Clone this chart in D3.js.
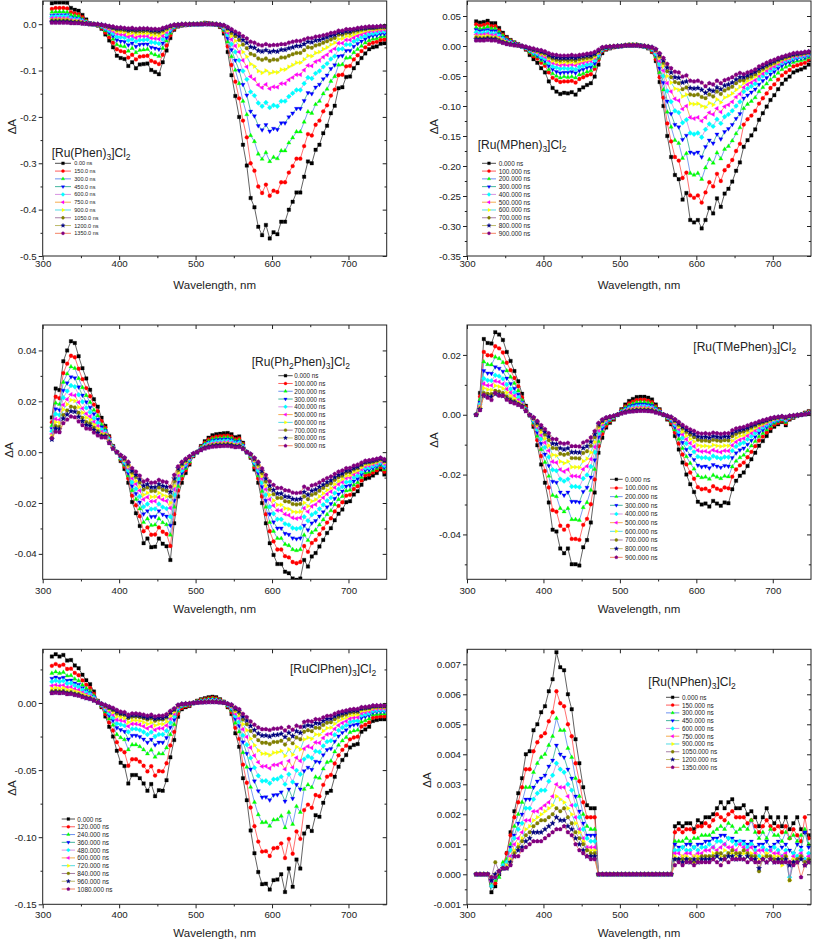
<!DOCTYPE html>
<html><head><meta charset="utf-8">
<script src="https://cdn.jsdelivr.net/npm/d3@7"></script>
<style>body{margin:0;background:#fff}svg{display:block}text{font-family:"Liberation Sans",Arial,Helvetica,sans-serif;fill:#222}</style>
</head><body>
<svg id="c" width="813" height="941"></svg>
<script>
// ---------- DATA ----------
const wavelengths = [312,317,322,327,332,337,342,347,352,357,362,367,372,377,382,387,392,397,402,407,412,417,422,427,432,437,442,447,452,457,462,467,472,477,482,487,492,497,502,507,512,517,522,527,532,537,542,547,552,557,562,567,572,577,582,587,592,597,602,607,612,617,622,627,632,637,642,647,652,657,662,667,672,677,682,687,692,697,702,707,712,717,722,727,732,737,742,747];
const xTicks = [300,400,500,600,700];
const xMinorTicks = [350,450,550,650];

const phenLabels = ["0.00 ns","150.0 ns","300.0 ns","450.0 ns","600.0 ns","750.0 ns","900.0 ns","1050.0 ns","1200.0 ns","1350.0 ns"];
const phenYTicks = [-0.5,-0.4,-0.3,-0.2,-0.1,0.0];
const phenYMinor = [-0.45,-0.35,-0.25,-0.15,-0.05];
const phenSeries = [
[.045,.047,.047,.047,.046,.035,.031,.029,.020,.010,.002,0,-.003,-.010,-.022,-.035,-.050,-.068,-.073,-.075,-.090,-.082,-.095,-.087,-.086,-.085,-.099,-.103,-.108,-.082,-.057,-.030,-.012,-.005,-.003,-.002,-.001,0,0,.001,.003,.002,.001,-.001,-.006,-.020,-.060,-.110,-.155,-.200,-.260,-.305,-.375,-.395,-.437,-.455,-.433,-.462,-.449,-.453,-.426,-.426,-.400,-.383,-.363,-.363,-.329,-.296,-.300,-.271,-.260,-.235,-.219,-.192,-.176,-.138,-.136,-.114,-.113,-.095,-.084,-.073,-.063,-.054,-.050,-.048,-.042,-.041],
[.033,.035,.035,.035,.034,.026,.023,.021,.015,.007,.001,0,-.002,-.008,-.018,-.028,-.040,-.054,-.058,-.060,-.072,-.066,-.076,-.070,-.069,-.068,-.079,-.082,-.086,-.066,-.046,-.024,-.010,-.004,-.002,-.002,-.001,0,0,.001,.002,.002,.001,-.001,-.005,-.016,-.048,-.088,-.124,-.160,-.208,-.244,-.300,-.316,-.350,-.364,-.346,-.370,-.359,-.362,-.341,-.341,-.320,-.306,-.290,-.290,-.263,-.237,-.240,-.217,-.208,-.188,-.175,-.154,-.141,-.110,-.109,-.091,-.090,-.076,-.067,-.058,-.050,-.043,-.040,-.038,-.034,-.033],
[.026,.027,.027,.027,.026,.020,.018,.017,.011,.006,.001,0,-.002,-.006,-.014,-.022,-.032,-.044,-.047,-.048,-.058,-.052,-.061,-.056,-.055,-.054,-.063,-.066,-.069,-.052,-.036,-.019,-.008,-.003,-.002,-.001,-.001,0,0,.001,.002,.001,.001,-.001,-.004,-.013,-.038,-.070,-.099,-.128,-.166,-.195,-.240,-.253,-.280,-.291,-.277,-.296,-.287,-.290,-.273,-.273,-.256,-.245,-.232,-.232,-.211,-.189,-.192,-.173,-.166,-.150,-.140,-.123,-.113,-.088,-.087,-.073,-.072,-.061,-.054,-.047,-.040,-.035,-.032,-.031,-.027,-.026],
[.019,.020,.020,.020,.020,.015,.013,.012,.009,.004,.001,0,-.002,-.005,-.011,-.018,-.025,-.034,-.037,-.038,-.045,-.041,-.048,-.044,-.043,-.043,-.050,-.052,-.054,-.041,-.029,-.015,-.006,-.003,-.002,-.001,-.001,0,0,0,.002,.001,0,-.001,-.003,-.010,-.030,-.055,-.078,-.100,-.130,-.153,-.188,-.198,-.219,-.228,-.217,-.231,-.225,-.227,-.213,-.213,-.200,-.192,-.182,-.182,-.165,-.148,-.150,-.136,-.130,-.118,-.110,-.096,-.088,-.069,-.068,-.057,-.057,-.048,-.042,-.037,-.032,-.027,-.025,-.024,-.021,-.021],
[.016,.017,.017,.017,.017,.013,.011,.010,.007,.004,.001,0,-.001,-.004,-.009,-.014,-.020,-.027,-.028,-.029,-.035,-.032,-.037,-.034,-.034,-.033,-.039,-.040,-.042,-.032,-.022,-.012,-.005,-.002,-.001,-.001,0,0,0,0,.001,.001,0,0,-.002,-.008,-.023,-.043,-.060,-.078,-.101,-.119,-.146,-.154,-.170,-.177,-.169,-.180,-.175,-.177,-.166,-.166,-.156,-.149,-.142,-.142,-.128,-.115,-.117,-.106,-.101,-.092,-.085,-.075,-.069,-.054,-.053,-.044,-.044,-.037,-.033,-.028,-.025,-.021,-.020,-.019,-.016,-.016],
[.013,.013,.013,.013,.013,.010,.009,.008,.006,.003,.001,0,-.001,-.003,-.007,-.011,-.015,-.020,-.022,-.023,-.027,-.025,-.029,-.026,-.026,-.026,-.030,-.031,-.032,-.025,-.017,-.009,-.004,-.002,-.001,-.001,0,0,0,0,.001,.001,0,0,-.002,-.006,-.018,-.033,-.047,-.060,-.078,-.092,-.113,-.119,-.131,-.137,-.130,-.139,-.135,-.136,-.128,-.128,-.120,-.115,-.109,-.109,-.099,-.089,-.090,-.081,-.078,-.071,-.066,-.058,-.053,-.041,-.041,-.034,-.034,-.029,-.025,-.022,-.019,-.016,-.015,-.014,-.013,-.012],
[.009,.010,.010,.010,.010,.007,.007,.006,.004,.002,0,0,-.001,-.002,-.005,-.008,-.012,-.016,-.017,-.017,-.021,-.019,-.022,-.020,-.020,-.020,-.023,-.024,-.025,-.019,-.013,-.007,-.003,-.001,-.001,0,0,0,0,0,.001,0,0,0,-.001,-.005,-.014,-.025,-.036,-.046,-.060,-.070,-.086,-.091,-.101,-.105,-.100,-.106,-.103,-.104,-.098,-.098,-.092,-.088,-.083,-.083,-.076,-.068,-.069,-.062,-.060,-.054,-.050,-.044,-.040,-.032,-.031,-.026,-.026,-.022,-.019,-.017,-.014,-.012,-.012,-.011,-.010,-.009],
[.008,.008,.008,.008,.008,.006,.005,.005,.003,.002,0,0,-.001,-.002,-.004,-.006,-.009,-.012,-.012,-.013,-.015,-.014,-.016,-.015,-.015,-.014,-.017,-.018,-.018,-.014,-.010,-.005,-.002,-.001,-.001,0,0,0,0,0,.001,0,0,0,-.001,-.003,-.010,-.019,-.026,-.034,-.044,-.052,-.064,-.067,-.074,-.077,-.074,-.079,-.076,-.077,-.072,-.072,-.068,-.065,-.062,-.062,-.056,-.050,-.051,-.046,-.044,-.040,-.037,-.033,-.030,-.023,-.023,-.019,-.019,-.016,-.014,-.012,-.011,-.009,-.009,-.008,-.007,-.007],
[.005,.005,.005,.005,.005,.004,.003,.003,.002,.001,0,0,0,-.001,-.003,-.005,-.007,-.009,-.009,-.010,-.012,-.011,-.012,-.011,-.011,-.011,-.013,-.013,-.014,-.011,-.007,-.004,-.002,-.001,0,0,0,0,0,0,0,0,0,0,-.001,-.003,-.008,-.014,-.020,-.026,-.034,-.040,-.049,-.051,-.057,-.059,-.056,-.060,-.058,-.059,-.055,-.055,-.052,-.050,-.047,-.047,-.043,-.038,-.039,-.035,-.034,-.031,-.028,-.025,-.023,-.018,-.018,-.015,-.015,-.012,-.011,-.009,-.008,-.007,-.007,-.006,-.005,-.005],
[.003,.003,.003,.003,.003,.002,.002,.002,.001,.001,0,0,0,-.001,-.002,-.004,-.005,-.007,-.007,-.008,-.009,-.008,-.010,-.009,-.009,-.009,-.010,-.010,-.011,-.008,-.006,-.003,-.001,-.001,0,0,0,0,0,0,0,0,0,0,-.001,-.002,-.006,-.011,-.016,-.020,-.026,-.031,-.038,-.040,-.044,-.046,-.043,-.046,-.045,-.045,-.043,-.043,-.040,-.038,-.036,-.036,-.033,-.030,-.030,-.027,-.026,-.024,-.022,-.019,-.018,-.014,-.014,-.011,-.011,-.010,-.008,-.007,-.006,-.005,-.005,-.005,-.004,-.004]
];

const mphenLabels = ["0.000 ns","100.000 ns","200.000 ns","300.000 ns","400.000 ns","500.000 ns","600.000 ns","700.000 ns","800.000 ns","900.000 ns"];
const mphenYTicks = [-0.35,-0.30,-0.25,-0.20,-0.15,-0.10,-0.05,0.00,0.05];
const mphenYMinor = [-0.325,-0.275,-0.225,-0.175,-0.125,-0.075,-0.025,0.025];
const mphenSeries = [
[.041,.039,.040,.042,.038,.038,.030,.022,.015,.010,.006,.003,-.001,-.006,-.015,-.022,-.028,-.037,-.044,-.059,-.070,-.076,-.080,-.078,-.079,-.077,-.081,-.073,-.069,-.065,-.062,-.051,-.031,-.012,-.006,-.004,-.002,-.001,0,.001,.002,.002,.002,.001,-.001,-.004,-.010,-.025,-.060,-.100,-.150,-.185,-.215,-.222,-.256,-.245,-.290,-.294,-.290,-.304,-.290,-.270,-.279,-.254,-.268,-.246,-.238,-.226,-.208,-.194,-.168,-.157,-.149,-.139,-.123,-.112,-.101,-.090,-.082,-.072,-.063,-.056,-.051,-.044,-.041,-.039,-.036,-.031],
[.036,.034,.035,.037,.033,.033,.026,.019,.013,.009,.005,.003,-.001,-.005,-.011,-.017,-.021,-.028,-.033,-.044,-.053,-.057,-.060,-.059,-.059,-.058,-.061,-.055,-.052,-.049,-.047,-.038,-.023,-.009,-.005,-.003,-.002,-.001,0,.001,.002,.002,.002,.001,-.001,-.003,-.009,-.022,-.052,-.086,-.129,-.159,-.185,-.191,-.220,-.211,-.249,-.253,-.249,-.261,-.244,-.227,-.234,-.213,-.225,-.207,-.200,-.190,-.175,-.163,-.131,-.122,-.116,-.108,-.096,-.087,-.079,-.070,-.064,-.056,-.049,-.044,-.040,-.034,-.032,-.030,-.028,-.024],
[.031,.029,.030,.032,.029,.029,.023,.017,.011,.008,.005,.002,-.001,-.004,-.010,-.015,-.018,-.024,-.029,-.039,-.046,-.050,-.053,-.051,-.052,-.051,-.053,-.048,-.046,-.043,-.041,-.034,-.020,-.008,-.004,-.003,-.001,-.001,0,.001,.002,.002,.002,.001,-.001,-.003,-.007,-.018,-.044,-.073,-.110,-.135,-.157,-.162,-.187,-.179,-.212,-.215,-.212,-.222,-.203,-.189,-.195,-.178,-.188,-.172,-.167,-.158,-.146,-.136,-.104,-.097,-.092,-.086,-.076,-.069,-.063,-.056,-.051,-.045,-.039,-.035,-.032,-.027,-.025,-.024,-.022,-.019],
[.027,.025,.026,.027,.025,.025,.020,.014,.010,.007,.004,.002,-.001,-.003,-.008,-.012,-.016,-.021,-.025,-.033,-.039,-.043,-.045,-.044,-.044,-.043,-.045,-.041,-.039,-.036,-.035,-.029,-.017,-.007,-.003,-.002,-.001,-.001,0,.001,.001,.001,.001,.001,-.001,-.002,-.006,-.015,-.037,-.061,-.092,-.113,-.131,-.135,-.156,-.149,-.177,-.179,-.177,-.185,-.168,-.157,-.162,-.147,-.155,-.143,-.138,-.131,-.121,-.113,-.087,-.082,-.077,-.072,-.064,-.058,-.053,-.047,-.043,-.037,-.033,-.029,-.027,-.023,-.021,-.020,-.019,-.016],
[.023,.021,.022,.023,.021,.021,.017,.012,.008,.006,.003,.002,-.001,-.003,-.007,-.011,-.013,-.018,-.021,-.028,-.034,-.036,-.038,-.037,-.038,-.037,-.039,-.035,-.033,-.031,-.030,-.024,-.015,-.006,-.003,-.002,-.001,0,0,.001,.001,.001,.001,.001,-.001,-.002,-.005,-.013,-.030,-.050,-.075,-.093,-.108,-.111,-.128,-.123,-.145,-.147,-.145,-.152,-.139,-.130,-.134,-.122,-.129,-.118,-.114,-.108,-.100,-.093,-.076,-.071,-.067,-.063,-.055,-.050,-.045,-.041,-.037,-.032,-.028,-.025,-.023,-.020,-.018,-.018,-.016,-.014],
[.019,.018,.019,.020,.018,.018,.014,.010,.007,.005,.003,.001,-.001,-.002,-.006,-.009,-.011,-.015,-.018,-.024,-.028,-.030,-.032,-.031,-.032,-.031,-.032,-.029,-.028,-.026,-.025,-.020,-.012,-.005,-.002,-.002,-.001,0,0,.001,.001,.001,.001,0,0,-.002,-.004,-.010,-.025,-.041,-.062,-.076,-.088,-.091,-.105,-.100,-.119,-.121,-.119,-.125,-.119,-.111,-.114,-.104,-.110,-.101,-.098,-.093,-.085,-.080,-.069,-.064,-.061,-.057,-.050,-.046,-.041,-.037,-.034,-.030,-.026,-.023,-.021,-.018,-.017,-.016,-.015,-.013],
[.016,.016,.016,.017,.015,.015,.012,.009,.006,.004,.002,.001,0,-.002,-.005,-.008,-.010,-.013,-.015,-.021,-.025,-.027,-.028,-.027,-.028,-.027,-.028,-.026,-.024,-.023,-.022,-.018,-.011,-.004,-.002,-.001,-.001,0,0,.001,.001,.001,.001,0,0,-.001,-.003,-.008,-.020,-.033,-.050,-.061,-.071,-.073,-.084,-.081,-.096,-.097,-.096,-.100,-.102,-.095,-.098,-.089,-.094,-.086,-.083,-.079,-.073,-.068,-.062,-.058,-.055,-.051,-.046,-.041,-.037,-.033,-.030,-.027,-.023,-.021,-.019,-.016,-.015,-.014,-.013,-.011],
[.014,.013,.013,.014,.013,.013,.010,.007,.005,.003,.002,.001,0,-.002,-.005,-.007,-.008,-.011,-.013,-.018,-.021,-.023,-.024,-.023,-.024,-.023,-.024,-.022,-.021,-.020,-.019,-.015,-.009,-.004,-.002,-.001,-.001,0,0,.001,.001,.001,.001,0,0,-.001,-.003,-.007,-.017,-.028,-.042,-.052,-.060,-.062,-.072,-.069,-.081,-.082,-.081,-.085,-.087,-.081,-.084,-.076,-.080,-.074,-.071,-.068,-.062,-.058,-.057,-.053,-.051,-.047,-.042,-.038,-.034,-.031,-.028,-.024,-.021,-.019,-.017,-.015,-.014,-.013,-.012,-.011],
[.011,.011,.011,.012,.011,.011,.008,.006,.004,.003,.002,.001,0,-.002,-.004,-.006,-.007,-.009,-.011,-.015,-.018,-.019,-.020,-.020,-.020,-.019,-.020,-.018,-.017,-.016,-.016,-.013,-.008,-.003,-.002,-.001,-.001,0,0,.001,.001,.001,.001,0,0,-.001,-.002,-.006,-.014,-.024,-.036,-.044,-.052,-.053,-.061,-.059,-.070,-.071,-.070,-.073,-.078,-.073,-.075,-.069,-.072,-.066,-.064,-.061,-.056,-.052,-.052,-.049,-.046,-.043,-.038,-.035,-.031,-.028,-.025,-.022,-.020,-.017,-.016,-.014,-.013,-.012,-.011,-.010],
[.009,.009,.009,.010,.009,.009,.007,.005,.003,.002,.001,.001,0,-.001,-.003,-.004,-.006,-.007,-.009,-.012,-.014,-.015,-.016,-.016,-.016,-.015,-.016,-.015,-.014,-.013,-.012,-.010,-.006,-.002,-.001,-.001,0,0,0,.001,.001,.001,.001,0,0,-.001,-.002,-.005,-.012,-.020,-.030,-.037,-.043,-.044,-.051,-.049,-.058,-.059,-.058,-.061,-.067,-.062,-.064,-.058,-.062,-.057,-.055,-.052,-.048,-.045,-.047,-.044,-.042,-.039,-.034,-.031,-.028,-.025,-.023,-.020,-.018,-.016,-.014,-.012,-.011,-.011,-.010,-.009]
];

const ph2Labels = ["0.000 ns","100.000 ns","200.000 ns","300.000 ns","400.000 ns","500.000 ns","600.000 ns","700.000 ns","800.000 ns","900.000 ns"];
const ph2YTicks = [-0.04,-0.02,0.00,0.02,0.04];
const ph2YMinor = [-0.03,-0.01,0.01,0.03];
const ph2Series = [
[.0136,.025,.0244,.0357,.040,.0436,.0429,.0377,.033,.029,.0245,.0208,.0179,.0135,.0103,.0063,.0024,0,-.0035,-.0066,-.012,-.0196,-.024,-.029,-.0358,-.034,-.0374,-.0372,-.034,-.036,-.037,-.0424,-.028,-.0174,-.012,-.0082,-.0049,-.0016,0,.0024,.0043,.0057,.0066,.007,.0072,.0074,.0075,.007,.0059,.0062,.0037,0,-.0022,-.0068,-.012,-.020,-.028,-.0358,-.0404,-.044,-.044,-.047,-.0476,-.0497,-.0502,-.0497,-.0424,-.045,-.041,-.0397,-.0371,-.0345,-.0318,-.0299,-.0268,-.0242,-.0226,-.0197,-.0193,-.0167,-.0154,-.0128,-.0105,-.0101,-.0092,-.0082,-.0068,-.0088],
[.0118,.0218,.0212,.0311,.0348,.0379,.0373,.0328,.0287,.0252,.022,.0187,.0161,.0122,.0096,.0059,.0022,0,-.003,-.0057,-.0104,-.0171,-.0209,-.0252,-.0311,-.0296,-.0325,-.0324,-.0296,-.0313,-.0322,-.0369,-.0244,-.0151,-.0104,-.0071,-.0043,-.0014,0,.0021,.0037,.005,.0057,.0061,.0063,.0064,.0065,.0061,.0051,.0054,.0032,0,-.0019,-.0059,-.0104,-.0174,-.0244,-.0311,-.0351,-.0383,-.0383,-.0409,-.0414,-.0432,-.0437,-.0432,-.0369,-.0392,-.0357,-.0345,-.0323,-.030,-.0277,-.026,-.0233,-.0211,-.0197,-.0171,-.0168,-.0145,-.0134,-.0111,-.0091,-.0088,-.008,-.0071,-.0059,-.0077],
[.0105,.0193,.0188,.0275,.0308,.0336,.033,.029,.0254,.0223,.0196,.0166,.0143,.0108,.009,.0055,.0021,0,-.0027,-.0051,-.0092,-.0151,-.0185,-.0223,-.0276,-.0262,-.0288,-.0286,-.0262,-.0277,-.0285,-.0326,-.0216,-.0134,-.0092,-.0063,-.0038,-.0012,0,.0018,.0033,.0044,.0051,.0054,.0055,.0057,.0058,.0054,.0045,.0048,.0028,0,-.0017,-.0052,-.0092,-.0154,-.0216,-.0276,-.0311,-.0339,-.0339,-.0362,-.0367,-.0383,-.0387,-.0383,-.0326,-.0347,-.0316,-.0306,-.0286,-.0266,-.0245,-.023,-.0206,-.0186,-.0174,-.0152,-.0149,-.0129,-.0119,-.0099,-.0081,-.0078,-.0071,-.0063,-.0052,-.0068],
[.0092,.017,.0166,.0243,.0272,.0296,.0292,.0256,.0224,.0197,.0176,.015,.0129,.0099,.0084,.0052,.002,0,-.0024,-.0045,-.0082,-.0133,-.0163,-.0197,-.0243,-.0231,-.0254,-.0253,-.0231,-.0245,-.0252,-.0288,-.019,-.0118,-.0082,-.0056,-.0033,-.0011,0,.0016,.0029,.0039,.0045,.0048,.0049,.005,.0051,.0048,.004,.0042,.0025,0,-.0015,-.0046,-.0082,-.0136,-.019,-.0243,-.0275,-.0299,-.0299,-.032,-.0324,-.0338,-.0341,-.0338,-.0288,-.0306,-.0279,-.027,-.0252,-.0235,-.0216,-.0203,-.0182,-.0165,-.0154,-.0134,-.0131,-.0114,-.0105,-.0087,-.0071,-.0069,-.0063,-.0056,-.0046,-.006],
[.0082,.015,.0146,.0214,.024,.0262,.0257,.0226,.0198,.0174,.0157,.0133,.0115,.0088,.0079,.0049,.0018,0,-.0021,-.004,-.0072,-.0118,-.0144,-.0174,-.0215,-.0204,-.0224,-.0223,-.0204,-.0216,-.0222,-.0254,-.0168,-.0104,-.0072,-.0049,-.0029,-.001,0,.0014,.0026,.0034,.004,.0042,.0043,.0044,.0045,.0042,.0035,.0037,.0022,0,-.0013,-.0041,-.0072,-.012,-.0168,-.0215,-.0242,-.0264,-.0264,-.0282,-.0286,-.0298,-.0301,-.0298,-.0254,-.027,-.0246,-.0238,-.0223,-.0207,-.0191,-.0179,-.0161,-.0145,-.0136,-.0118,-.0116,-.010,-.0092,-.0077,-.0063,-.0061,-.0055,-.0049,-.0041,-.0053],
[.0071,.013,.0127,.0186,.0208,.0227,.0223,.0196,.0172,.0151,.014,.0119,.0102,.0079,.0074,.0045,.0017,0,-.0018,-.0034,-.0062,-.0102,-.0125,-.0151,-.0186,-.0177,-.0194,-.0193,-.0177,-.0187,-.0192,-.022,-.0146,-.009,-.0062,-.0043,-.0025,-.0008,0,.0012,.0022,.003,.0034,.0036,.0037,.0038,.0039,.0036,.0031,.0032,.0019,0,-.0011,-.0035,-.0062,-.0104,-.0146,-.0186,-.021,-.0229,-.0229,-.0244,-.0248,-.0258,-.0261,-.0258,-.022,-.0234,-.0213,-.0206,-.0193,-.0179,-.0165,-.0155,-.0139,-.0126,-.0118,-.0102,-.010,-.0087,-.008,-.0067,-.0055,-.0053,-.0048,-.0043,-.0035,-.0046],
[.0064,.0118,.0115,.0168,.0188,.0205,.0202,.0177,.0155,.0136,.0127,.0108,.0093,.0072,.007,.0043,.0016,0,-.0016,-.0031,-.0056,-.0092,-.0113,-.0136,-.0168,-.016,-.0176,-.0175,-.016,-.0169,-.0174,-.0199,-.0132,-.0082,-.0056,-.0039,-.0023,-.0008,0,.0011,.002,.0027,.0031,.0033,.0034,.0035,.0035,.0033,.0028,.0029,.0017,0,-.001,-.0032,-.0056,-.0094,-.0132,-.0168,-.019,-.0207,-.0207,-.0221,-.0224,-.0234,-.0236,-.0234,-.0199,-.0212,-.0193,-.0187,-.0174,-.0162,-.0149,-.0141,-.0126,-.0114,-.0106,-.0093,-.0091,-.0078,-.0072,-.006,-.0049,-.0047,-.0043,-.0039,-.0032,-.0041],
[.0056,.0103,.010,.0146,.0164,.0179,.0176,.0155,.0135,.0119,.0113,.0096,.0082,.0066,.0066,.004,.0015,0,-.0014,-.0027,-.0049,-.008,-.0098,-.0119,-.0147,-.0139,-.0153,-.0153,-.0139,-.0148,-.0152,-.0174,-.0115,-.0071,-.0049,-.0034,-.002,-.0007,0,.001,.0018,.0023,.0027,.0029,.003,.003,.0031,.0029,.0024,.0025,.0015,0,-.0009,-.0028,-.0049,-.0082,-.0115,-.0147,-.0166,-.018,-.018,-.0193,-.0195,-.0204,-.0206,-.0204,-.0174,-.0185,-.0168,-.0163,-.0152,-.0141,-.013,-.0123,-.011,-.0099,-.0093,-.0081,-.0079,-.0068,-.0063,-.0052,-.0043,-.0041,-.0038,-.0034,-.0028,-.0036],
[.005,.0093,.009,.0132,.0148,.0161,.0159,.0139,.0122,.0107,.0103,.0087,.0075,.0062,.0062,.0038,.0014,0,-.0013,-.0024,-.0044,-.0073,-.0089,-.0107,-.0132,-.0126,-.0138,-.0138,-.0126,-.0133,-.0137,-.0157,-.0104,-.0064,-.0044,-.003,-.0018,-.0006,0,.0009,.0016,.0021,.0024,.0026,.0027,.0027,.0028,.0026,.0022,.0023,.0014,0,-.0008,-.0025,-.0044,-.0074,-.0104,-.0132,-.0149,-.0163,-.0163,-.0174,-.0176,-.0184,-.0186,-.0184,-.0157,-.0167,-.0152,-.0147,-.0137,-.0128,-.0118,-.0111,-.0099,-.009,-.0084,-.0073,-.0071,-.0062,-.0057,-.0047,-.0039,-.0037,-.0034,-.003,-.0025,-.0033],
[.0055,.008,.0078,.0114,.0128,.014,.0137,.0121,.0106,.0093,.0091,.0077,.0066,.0058,.0058,.0035,.0013,0,-.0011,-.0021,-.0038,-.0063,-.0077,-.0093,-.0115,-.0109,-.012,-.0119,-.0109,-.0115,-.0118,-.0136,-.009,-.0056,-.0038,-.0026,-.0016,-.0005,0,.0008,.0014,.0018,.0021,.0022,.0023,.0024,.0024,.0022,.0019,.002,.0012,0,-.0007,-.0022,-.0038,-.0064,-.009,-.0115,-.0129,-.0141,-.0141,-.015,-.0152,-.0159,-.0161,-.0159,-.0136,-.0144,-.0131,-.0127,-.0119,-.011,-.0102,-.0096,-.0086,-.0077,-.0072,-.0063,-.0062,-.0053,-.0049,-.0041,-.0034,-.0032,-.0029,-.0026,-.0022,-.0028]
];

const tmeLabels = ["0.000 ns","100.000 ns","200.000 ns","300.000 ns","400.000 ns","500.000 ns","600.000 ns","700.000 ns","800.000 ns","900.000 ns"];
const tmeYTicks = [-0.04,-0.02,0.00,0.02];
const tmeYMinor = [-0.05,-0.03,-0.01,0.01];
const tmeSeries = [
[0,.0073,.0253,.024,.0238,.0276,.0268,.025,.021,.018,.0146,.0112,.007,.003,-.0002,-.004,-.0102,-.0166,-.0227,-.0293,-.0384,-.039,-.0447,-.0463,-.0447,-.050,-.050,-.0504,-.0443,-.0419,-.036,-.026,-.0127,-.0077,-.0043,-.0027,-.0016,0,.0018,.0034,.0046,.0053,.0059,.006,.006,.0057,.0051,.0034,.0018,0,-.0016,-.0032,-.0071,-.0116,-.016,-.020,-.0232,-.0258,-.0291,-.030,-.0297,-.0307,-.0288,-.0297,-.0304,-.0293,-.0296,-.0249,-.0221,-.0204,-.0193,-.0171,-.0149,-.0127,-.0104,-.0088,-.0071,-.0054,-.004,-.0032,-.0024,-.0035,-.0016,-.001,-.0004,0,.0007,.0012],
[0,.0061,.021,.0199,.0198,.0229,.0222,.0208,.0174,.0149,.0123,.0095,.0058,.0025,-.0002,-.0033,-.0085,-.0138,-.0188,-.0243,-.0319,-.0324,-.0371,-.0384,-.0371,-.0415,-.0415,-.0418,-.0368,-.0348,-.0299,-.0216,-.0105,-.0064,-.0036,-.0022,-.0013,0,.0015,.0028,.0038,.0044,.0049,.005,.005,.0047,.0042,.0028,.0015,0,-.0013,-.0027,-.0059,-.0096,-.0133,-.0166,-.0193,-.0214,-.0242,-.0249,-.0247,-.0255,-.0239,-.0247,-.0252,-.0243,-.0246,-.0207,-.0183,-.0169,-.016,-.0142,-.0124,-.0105,-.0086,-.0073,-.0059,-.0045,-.0033,-.0027,-.002,-.0029,-.0013,-.0008,-.0003,0,.0006,.001],
[0,.0051,.0177,.0168,.0167,.0193,.0188,.0175,.0147,.0126,.0105,.008,.0048,.0021,-.0001,-.0028,-.0071,-.0116,-.0159,-.0205,-.0269,-.0273,-.0313,-.0324,-.0313,-.035,-.035,-.0353,-.031,-.0293,-.0252,-.0182,-.0089,-.0054,-.003,-.0019,-.0011,0,.0013,.0024,.0032,.0037,.0041,.0042,.0042,.004,.0036,.0024,.0013,0,-.0011,-.0022,-.005,-.0081,-.0112,-.014,-.0162,-.0181,-.0204,-.021,-.0208,-.0215,-.0202,-.0208,-.0213,-.0205,-.0207,-.0174,-.0155,-.0143,-.0135,-.012,-.0104,-.0089,-.0073,-.0062,-.005,-.0038,-.0028,-.0022,-.0017,-.0025,-.0011,-.0007,-.0003,0,.0005,.0008],
[0,.0042,.0147,.0139,.0138,.016,.0155,.0145,.0122,.0104,.0088,.0068,.0042,.0019,-.0001,-.0023,-.0059,-.0096,-.0132,-.017,-.0223,-.0226,-.0259,-.0269,-.0259,-.029,-.029,-.0292,-.0257,-.0243,-.0209,-.0151,-.0074,-.0045,-.0025,-.0016,-.0009,0,.001,.002,.0027,.0031,.0034,.0035,.0035,.0033,.003,.002,.001,0,-.0009,-.0019,-.0041,-.0067,-.0093,-.0116,-.0135,-.015,-.0169,-.0174,-.0172,-.0178,-.0167,-.0172,-.0176,-.017,-.0172,-.0144,-.0128,-.0118,-.0112,-.0099,-.0086,-.0074,-.006,-.0051,-.0041,-.0031,-.0023,-.0019,-.0014,-.002,-.0009,-.0006,-.0002,0,.0004,.0007],
[0,.0035,.0121,.0115,.0114,.0132,.0129,.012,.0101,.0086,.0074,.0058,.0038,.0017,-.0001,-.0019,-.0049,-.008,-.0109,-.0141,-.0184,-.0187,-.0215,-.0222,-.0215,-.024,-.024,-.0242,-.0213,-.0201,-.0173,-.0125,-.0061,-.0037,-.0021,-.0013,-.0008,0,.0009,.0016,.0022,.0025,.0028,.0029,.0029,.0027,.0024,.0016,.0009,0,-.0008,-.0015,-.0034,-.0056,-.0077,-.0096,-.0111,-.0124,-.014,-.0144,-.0143,-.0147,-.0138,-.0143,-.0146,-.0141,-.0142,-.012,-.0106,-.0098,-.0093,-.0082,-.0072,-.0061,-.005,-.0042,-.0034,-.0026,-.0019,-.0015,-.0012,-.0017,-.0008,-.0005,-.0002,0,.0003,.0006],
[0,.003,.0104,.0098,.0098,.0113,.011,.0103,.0086,.0074,.0063,.0049,.0036,.0016,-.0001,-.0016,-.0042,-.0068,-.0093,-.012,-.0157,-.016,-.0183,-.019,-.0183,-.0205,-.0205,-.0207,-.0182,-.0172,-.0148,-.0107,-.0052,-.0032,-.0018,-.0011,-.0007,0,.0007,.0014,.0019,.0022,.0024,.0025,.0025,.0023,.0021,.0014,.0007,0,-.0007,-.0013,-.0029,-.0048,-.0066,-.0082,-.0095,-.0106,-.0119,-.0123,-.0122,-.0126,-.0118,-.0122,-.0125,-.012,-.0121,-.0102,-.0091,-.0084,-.0079,-.007,-.0061,-.0052,-.0043,-.0036,-.0029,-.0022,-.0016,-.0013,-.001,-.0014,-.0007,-.0004,-.0002,0,.0003,.0005],
[0,.0026,.0089,.0084,.0083,.0097,.0094,.0088,.0074,.0063,.0054,.0042,.0033,.0015,-.0001,-.0014,-.0036,-.0058,-.0079,-.0103,-.0134,-.0137,-.0156,-.0162,-.0156,-.0175,-.0175,-.0176,-.0155,-.0147,-.0126,-.0091,-.0044,-.0027,-.0015,-.0009,-.0006,0,.0006,.0012,.0016,.0019,.0021,.0021,.0021,.002,.0018,.0012,.0006,0,-.0006,-.0011,-.0025,-.0041,-.0056,-.007,-.0081,-.009,-.0102,-.0105,-.0104,-.0107,-.0101,-.0104,-.0106,-.0103,-.0104,-.0087,-.0077,-.0071,-.0068,-.006,-.0052,-.0044,-.0036,-.0031,-.0025,-.0019,-.0014,-.0011,-.0008,-.0012,-.0006,-.0004,-.0001,0,.0002,.0004],
[0,.0021,.0073,.007,.0069,.008,.0078,.0073,.0061,.0052,.0045,.0037,.003,.0014,-.0001,-.0012,-.003,-.0048,-.0066,-.0085,-.0111,-.0113,-.013,-.0134,-.013,-.0145,-.0145,-.0146,-.0128,-.0122,-.0104,-.0075,-.0037,-.0022,-.0012,-.0008,-.0005,0,.0005,.001,.0013,.0015,.0017,.0017,.0017,.0017,.0015,.001,.0005,0,-.0005,-.0009,-.0021,-.0034,-.0046,-.0058,-.0067,-.0075,-.0084,-.0087,-.0086,-.0089,-.0084,-.0086,-.0088,-.0085,-.0086,-.0072,-.0064,-.0059,-.0056,-.005,-.0043,-.0037,-.003,-.0026,-.0021,-.0016,-.0012,-.0009,-.0007,-.001,-.0005,-.0003,-.0001,0,.0002,.0003],
[0,.0018,.0063,.006,.006,.0069,.0067,.0063,.0053,.0045,.0041,.0034,.0028,.0013,-.0001,-.001,-.0026,-.0042,-.0057,-.0073,-.0096,-.0098,-.0112,-.0116,-.0112,-.0125,-.0125,-.0126,-.0111,-.0105,-.009,-.0065,-.0032,-.0019,-.0011,-.0007,-.0004,0,.0005,.0009,.0012,.0013,.0015,.0015,.0015,.0014,.0013,.0009,.0005,0,-.0004,-.0008,-.0018,-.0029,-.004,-.005,-.0058,-.0065,-.0073,-.0075,-.0074,-.0077,-.0072,-.0074,-.0076,-.0073,-.0074,-.0062,-.0055,-.0051,-.0048,-.0043,-.0037,-.0032,-.0026,-.0022,-.0018,-.0014,-.001,-.0008,-.0006,-.0009,-.0004,-.0003,-.0001,0,.0002,.0003],
[0,.0015,.0066,.0057,.0049,.0073,.0064,.0064,.005,.0042,.0038,.0033,.0026,.0012,-.0001,-.0008,-.0021,-.0035,-.0048,-.0062,-.0081,-.0082,-.0094,-.0097,-.0094,-.0105,-.0105,-.0106,-.0093,-.0088,-.0076,-.0055,-.0027,-.0016,-.0009,-.0006,-.0003,0,.0004,.0007,.001,.0011,.0012,.0013,.0013,.0012,.0011,.0007,.0004,0,-.0003,-.0007,-.0015,-.0024,-.0034,-.0042,-.0049,-.0054,-.0061,-.0063,-.0062,-.0064,-.006,-.0062,-.0064,-.0062,-.0062,-.0052,-.0046,-.0043,-.0041,-.0036,-.0031,-.0027,-.0022,-.0018,-.0015,-.0011,-.0008,-.0007,-.0005,-.0007,-.0003,-.0002,-.0001,0,.0001,.0003]
];

const clLabels = ["0.000 ns","120.000 ns","240.000 ns","360.000 ns","480.000 ns","600.000 ns","720.000 ns","840.000 ns","960.000 ns","1080.000 ns"];
const clYTicks = [-0.15,-0.10,-0.05,0.00];
const clYMinor = [-0.125,-0.075,-0.025,0.025];
const clSeries = [
[.0346,.0363,.0346,.0358,.0316,.032,.028,.0259,.021,.017,.014,.0085,.0017,-.0032,-.010,-.0177,-.025,-.0356,-.0445,-.047,-.060,-.0537,-.0537,-.056,-.060,-.0654,-.0604,-.0694,-.065,-.0654,-.0575,-.0405,-.0276,-.0102,-.0047,-.0032,-.0022,0,.0017,.0027,.0035,.0042,.0047,.0042,.0027,.001,-.0032,-.0082,-.0226,-.0326,-.056,-.0724,-.095,-.112,-.126,-.135,-.1346,-.139,-.132,-.1316,-.1276,-.1408,-.1234,-.137,-.1167,-.1234,-.0973,-.0923,-.0953,-.0836,-.0848,-.0744,-.0669,-.0654,-.055,-.0475,-.0425,-.0388,-.0331,-.0313,-.0306,-.0214,-.0197,-.0177,-.0134,-.0127,-.0122,-.0122],
[.0277,.029,.0277,.0286,.0253,.0256,.0224,.0207,.0168,.0136,.0112,.0068,.0014,-.0026,-.0082,-.0145,-.0205,-.0292,-.0347,-.0367,-.0468,-.0419,-.0419,-.0437,-.0468,-.051,-.0471,-.0541,-.0507,-.051,-.0449,-.0316,-.0215,-.008,-.0037,-.0025,-.0017,0,.0014,.0022,.0029,.0034,.0039,.0034,.0022,.0008,-.0026,-.0067,-.0185,-.0267,-.0459,-.0594,-.0779,-.0918,-.1033,-.1107,-.1104,-.114,-.1082,-.1079,-.1046,-.1155,-.1012,-.1123,-.0957,-.1012,-.0798,-.0757,-.0781,-.0686,-.0695,-.061,-.0549,-.0536,-.0451,-.039,-.0349,-.0318,-.0271,-.0257,-.0251,-.0175,-.0162,-.0145,-.011,-.0104,-.010,-.010],
[.0221,.0232,.0221,.0229,.0202,.0205,.0179,.0166,.0134,.0109,.009,.0054,.0011,-.0021,-.0066,-.0117,-.0165,-.0235,-.0258,-.0273,-.0348,-.0311,-.0311,-.0325,-.0348,-.0379,-.035,-.0403,-.0377,-.0379,-.0334,-.0235,-.016,-.0059,-.0027,-.0019,-.0013,0,.0011,.0018,.0023,.0028,.0031,.0028,.0018,.0007,-.0021,-.0054,-.0149,-.0215,-.037,-.0478,-.0627,-.0739,-.0832,-.0891,-.0888,-.0917,-.0871,-.0869,-.0842,-.0929,-.0814,-.0904,-.077,-.0814,-.0642,-.0609,-.0629,-.0552,-.056,-.0491,-.0442,-.0432,-.0363,-.0314,-.0281,-.0256,-.0218,-.0207,-.0202,-.0141,-.013,-.0117,-.0088,-.0084,-.0081,-.0081],
[.0183,.0192,.0183,.019,.0167,.017,.0148,.0137,.0111,.009,.0074,.0045,.0009,-.0017,-.0052,-.0092,-.013,-.0185,-.020,-.0212,-.027,-.0242,-.0242,-.0252,-.027,-.0294,-.0272,-.0312,-.0293,-.0294,-.0259,-.0182,-.0124,-.0046,-.0021,-.0014,-.001,0,.0009,.0014,.0018,.0022,.0024,.0022,.0014,.0005,-.0017,-.0043,-.0118,-.017,-.0291,-.0376,-.0494,-.0582,-.0655,-.0702,-.070,-.0723,-.0686,-.0684,-.0664,-.0732,-.0642,-.0712,-.0607,-.0642,-.0506,-.048,-.0496,-.0435,-.0441,-.0387,-.0348,-.034,-.0286,-.0247,-.0221,-.0202,-.0172,-.0163,-.0159,-.0111,-.0102,-.0092,-.007,-.0066,-.0063,-.0063],
[.0159,.0167,.0159,.0165,.0145,.0147,.0129,.0119,.0097,.0078,.0064,.0039,.0008,-.0014,-.0043,-.0076,-.0108,-.0153,-.016,-.0169,-.0216,-.0193,-.0193,-.0202,-.0216,-.0235,-.0217,-.025,-.0234,-.0235,-.0207,-.0146,-.0099,-.0037,-.0017,-.0012,-.0008,0,.0007,.0012,.0015,.0018,.002,.0018,.0012,.0004,-.0014,-.0035,-.0097,-.014,-.0241,-.0311,-.0409,-.0482,-.0542,-.0581,-.0579,-.0598,-.0568,-.0566,-.0549,-.0605,-.0531,-.0589,-.0502,-.0531,-.0418,-.0397,-.041,-.0359,-.0365,-.032,-.0288,-.0281,-.0237,-.0204,-.0183,-.0167,-.0142,-.0135,-.0132,-.0092,-.0085,-.0076,-.0058,-.0055,-.0052,-.0052],
[.0128,.0134,.0128,.0132,.0117,.0118,.0104,.0096,.0078,.0063,.0052,.0031,.0006,-.0011,-.0035,-.0062,-.0088,-.0125,-.0129,-.0136,-.0174,-.0156,-.0156,-.0162,-.0174,-.019,-.0175,-.0201,-.0189,-.019,-.0167,-.0117,-.008,-.003,-.0014,-.0009,-.0006,0,.0006,.0009,.0012,.0015,.0016,.0015,.0009,.0004,-.0011,-.0029,-.0079,-.0114,-.0196,-.0253,-.0333,-.0392,-.0441,-.0473,-.0471,-.0487,-.0462,-.0461,-.0447,-.0493,-.0432,-.048,-.0408,-.0432,-.0341,-.0323,-.0334,-.0293,-.0297,-.026,-.0234,-.0229,-.0193,-.0166,-.0149,-.0136,-.0116,-.011,-.0107,-.0075,-.0069,-.0062,-.0047,-.0044,-.0043,-.0043],
[.0107,.0113,.0107,.0111,.0098,.0099,.0087,.008,.0065,.0053,.0043,.0026,.0005,-.0009,-.0028,-.005,-.007,-.010,-.0107,-.0113,-.0144,-.0129,-.0129,-.0134,-.0144,-.0157,-.0145,-.0167,-.0156,-.0157,-.0138,-.0097,-.0066,-.0024,-.0011,-.0008,-.0005,0,.0005,.0008,.001,.0012,.0013,.0012,.0008,.0003,-.0009,-.0023,-.0063,-.0091,-.0157,-.0203,-.0266,-.0314,-.0353,-.0378,-.0377,-.0389,-.037,-.0368,-.0357,-.0394,-.0346,-.0384,-.0327,-.0346,-.0272,-.0258,-.0267,-.0234,-.0237,-.0208,-.0187,-.0183,-.0154,-.0133,-.0119,-.0109,-.0093,-.0088,-.0086,-.006,-.0055,-.005,-.0038,-.0036,-.0034,-.0034],
[.0087,.0091,.0087,.009,.0079,.008,.007,.0065,.0053,.0043,.0035,.0021,.0004,-.0007,-.0022,-.0039,-.0055,-.0078,-.0085,-.0089,-.0114,-.0102,-.0102,-.0106,-.0114,-.0124,-.0115,-.0132,-.0124,-.0124,-.0109,-.0077,-.0052,-.0019,-.0009,-.0006,-.0004,0,.0004,.0006,.0008,.0009,.001,.0009,.0006,.0002,-.0007,-.0018,-.005,-.0072,-.0123,-.0159,-.0209,-.0246,-.0277,-.0297,-.0296,-.0306,-.029,-.029,-.0281,-.031,-.0271,-.0301,-.0257,-.0271,-.0214,-.0203,-.021,-.0184,-.0187,-.0164,-.0147,-.0144,-.0121,-.0105,-.0094,-.0085,-.0073,-.0069,-.0067,-.0047,-.0043,-.0039,-.0029,-.0028,-.0027,-.0027],
[.0076,.008,.0076,.0079,.007,.007,.0062,.0057,.0046,.0037,.0031,.0019,.0004,-.0006,-.0018,-.0032,-.0045,-.0064,-.0076,-.008,-.0102,-.0091,-.0091,-.0095,-.0102,-.0111,-.0103,-.0118,-.0111,-.0111,-.0098,-.0069,-.0047,-.0017,-.0008,-.0005,-.0004,0,.0003,.0005,.0006,.0008,.0008,.0008,.0005,.0002,-.0006,-.0015,-.0041,-.0059,-.0101,-.013,-.0171,-.0202,-.0227,-.0243,-.0242,-.025,-.0238,-.0237,-.023,-.0253,-.0222,-.0247,-.021,-.0222,-.0175,-.0166,-.0172,-.015,-.0153,-.0134,-.012,-.0118,-.0099,-.0086,-.0077,-.007,-.006,-.0056,-.0055,-.0039,-.0035,-.0032,-.0024,-.0023,-.0022,-.0022],
[.0073,.0076,.0073,.0075,.0066,.0067,.0059,.0054,.0044,.0036,.0029,.0018,.0004,-.0005,-.0015,-.0026,-.0036,-.0052,-.0065,-.0068,-.0087,-.0078,-.0078,-.0081,-.0087,-.0095,-.0088,-.0101,-.0094,-.0095,-.0083,-.0059,-.004,-.0015,-.0007,-.0005,-.0003,0,.0002,.0004,.0005,.0006,.0007,.0006,.0004,.0001,-.0005,-.0012,-.0033,-.0047,-.0081,-.0105,-.0138,-.0162,-.0183,-.0196,-.0195,-.0202,-.0191,-.0191,-.0185,-.0204,-.0179,-.0199,-.0169,-.0179,-.0141,-.0134,-.0138,-.0121,-.0123,-.0108,-.0097,-.0095,-.008,-.0069,-.0062,-.0056,-.0048,-.0045,-.0044,-.0031,-.0029,-.0026,-.0019,-.0018,-.0018,-.0018]
];

const nLabels = ["0.000 ns","150.000 ns","300.000 ns","450.000 ns","600.000 ns","750.000 ns","900.000 ns","1050.000 ns","1200.000 ns","1350.000 ns"];
const nYTicks = [-0.001,0.000,0.001,0.002,0.003,0.004,0.005,0.006,0.007];
const nYMinor = [-0.0005,0.0005,0.0015,0.0025,0.0035,0.0045,0.0055,0.0065];
const nSeries = [
[0,0,0,0,-.0006,-.0004,0,.0002,.0007,.0014,.0021,.0027,.0032,.004,.0041,.0048,.005,.0054,.0056,.0061,.0065,.0074,.0069,.0068,.006,.0055,.0045,.0037,.0029,.0023,.0022,.0022,0,0,0,0,0,0,0,0,0,0,0,0,0,0,0,0,0,0,0,0,.0016,.0017,.0016,.0017,.0017,.0015,.0018,.0017,.0019,.0019,.0020,.0022,.0024,.0022,.0024,.0025,.0022,.0022,.0023,.0020,.0021,.0019,.0016,.0019,.0022,.0019,.0017,.0019,.0016,.0019,.0015,.0017,.0019,.0015,.0014,.0013],
[0,0,0,0,-.0004,-.0003,.0001,.0003,.0007,.0013,.0019,.0024,.0029,.0035,.0035,.0041,.0044,.0046,.0047,.0051,.0054,.0061,.0057,.0056,.005,.0046,.0037,.0031,.0024,.0019,.0019,.0019,0,0,0,0,0,0,0,0,0,0,0,0,0,0,0,0,0,0,0,0,.0014,.0015,.0014,.0015,.0015,.0014,.0016,.0016,.0017,.0016,.0018,.0020,.0019,.0018,.0020,.0021,.0019,.0019,.0019,.0017,.0018,.0016,.0014,.0016,.0018,.0016,.0015,.0016,.0014,.0016,.0012,.0015,.0013,.0011,.0019,.0012],
[0,0,0,0,-.0003,-.0002,-.0001,.0004,.0005,.0010,.0016,.002,.0024,.0029,.0029,.0034,.0037,.0039,.0040,.0043,.0046,.0052,.0048,.0048,.0042,.0039,.0032,.0026,.002,.0016,.0015,.0015,0,0,0,0,0,0,0,0,0,0,0,0,0,0,0,0,0,0,0,0,.0011,.0011,.0011,.0012,.0011,.0012,.0012,.0013,.0013,.0013,.0014,.0015,.0016,.0015,.0017,.0016,.0014,.0015,.0016,.0015,.0018,.0014,.0012,.0014,.0012,.0015,.0013,.0013,.0011,.0014,.0012,.0013,.0011,.0013,.0015,.0010],
[0,0,0,0,-.0002,-.0001,.0001,.0002,.0004,.0009,.0013,.0017,.002,.0025,.0025,.0029,.0031,.0032,.0033,.0036,.0038,.0043,.0040,.0039,.0035,.0032,.0026,.0021,.0017,.0013,.0013,.0013,0,0,0,0,0,0,0,0,0,0,0,0,0,0,0,0,0,0,0,0,.0010,.0009,.0009,.0010,.0010,.0009,.0010,.0010,.0011,.0011,.0012,.0012,.0013,.0013,.0012,.0012,.0011,.0011,.0011,.0010,.0011,.0009,.0010,.0010,.0011,.0009,.0010,.0011,.0009,.0010,.0008,.0007,.0010,.0009,.0014,.0009],
[0,0,0,0,-.0004,-.0001,.0001,.0003,.0004,.0008,.0012,.0015,.0017,.0022,.0022,.0025,.0027,.0028,.0028,.0031,.0033,.0037,.0035,.0034,.0030,.0028,.0023,.0019,.0015,.0012,.0011,.0011,0,0,0,0,0,0,0,0,0,0,0,0,0,0,0,0,0,0,0,0,.0008,.0008,.0009,.0008,.0008,.0009,.0008,.0009,.0009,.0010,.0009,.0011,.0011,.0010,.0012,.0011,.0010,.0011,.0010,.0009,.0010,.0008,.0006,.0009,.0008,.0008,.0009,.0008,.0006,.0008,-.0001,.0007,.0006,.0008,.0005,.0007],
[0,0,0,0,-.0002,0,.0001,.0002,.0003,.0006,.001,.0012,.0014,.0018,.0018,.0021,.0021,.0022,.0023,.0024,.0026,.0030,.0029,.0029,.0026,.0023,.0019,.0015,.0012,.0009,.0009,.0009,0,0,0,0,0,0,0,0,0,0,0,0,0,0,0,0,0,0,0,0,.0007,.0007,.0006,.0007,.0007,.0006,.0007,.0007,.0008,.0008,.0009,.0008,.0009,.0010,.0009,.0009,.0008,.0010,.0009,.0008,.0009,.0007,.0008,.0008,.0006,.0008,.0007,.0007,.0006,.0007,.0004,.0006,.0005,.0007,.0004,.0006],
[0,0,0,0,-.0001,0,.0001,.0002,.0003,.0005,.0008,.001,.0012,.0015,.0016,.0018,.0019,.002,.0021,.0022,.0023,.0026,.0025,.0024,.0022,.002,.0017,.0014,.0011,.0008,.0008,.0008,0,0,0,0,0,0,0,0,0,0,0,0,0,0,0,0,0,0,0,0,.0006,.0005,.0006,.0006,.0005,.0006,.0006,.0005,.0006,.0006,.0007,.0007,.0006,.0008,.0007,.0007,.0006,.0007,.0007,.0006,.0007,.0006,.0005,.0006,.0007,.0005,.0006,.0006,.0003,.0006,-.0002,.0005,.0004,.0006,.0003,.0005],
[0,0,0,0,-.0001,.0004,.0001,.0002,.0002,.0004,.0007,.0009,.0011,.0013,.0014,.0016,.0017,.0018,.0018,.0019,.0020,.0022,.0021,.0022,.0019,.0017,.0014,.0012,.001,.0008,.0007,.0007,0,0,0,0,0,0,0,0,0,0,0,0,0,0,0,0,0,0,0,0,.0005,.0005,.0005,.0005,.0005,.0004,.0005,.0006,.0006,.0006,.0006,.0007,.0007,.0006,.0007,.0008,.0007,.0007,.0008,.0007,.0006,.0006,.0001,.0005,.0006,.0006,.0005,.0005,.0005,.0006,-.0002,.0004,.0005,.0006,.0004,.0005],
[0,0,0,0,-.0002,0,.0001,.0002,.0002,.0004,.0006,.0008,.0009,.0011,.0012,.0014,.0014,.0014,.0015,.0016,.0017,.0019,.0018,.0018,.0016,.0015,.0012,.0010,.0008,.0006,.0006,.0006,0,0,0,0,0,0,0,0,0,0,0,0,0,0,0,0,0,0,0,0,.0005,.0005,.0004,.0005,.0004,.0005,.0004,.0005,.0005,.0005,.0005,.0006,.0005,.0005,.0006,.0006,.0005,.0006,.0005,.0006,.0005,.0005,.0002,.0005,.0004,.0005,.0004,.0005,.0004,.0005,.0003,.0004,.0004,.0005,.0003,.0004],
[0,0,0,0,-.0001,-.0001,.0001,.0002,.0002,.0003,.0006,.0006,.0008,.0009,.001,.0011,.0011,.0011,.0012,.0013,.0014,.0015,.0015,.0016,.0014,.0013,.001,.0008,.0007,.0006,.0005,.0005,0,0,0,0,0,0,0,0,0,0,0,0,0,0,0,0,0,0,0,0,.0003,.0004,.0003,.0004,.0004,.0003,.0004,.0004,.0004,.0004,.0005,.0004,.0003,.0005,.0004,.0005,.0005,.0005,.0005,.0004,.0005,.0004,.0004,.0005,.0004,.0005,.0004,.0004,.0004,.0004,.0004,.0003,.0004,-.0001,.0003,.0004]
];

// ---------- STYLE ----------
const symbolColors = ["#000000","#ff0000","#00ff00","#0000ff","#00ffff","#ff00ff","#ffff00","#808000","#000080","#800080"];
const lineColors = ["#3a3a3a","#ff4a4a","#5b86ee","#2fae93","#d487e0","#f4a23c","#3fd6e2","#9c6f9c","#b4b15a","#f27552"];
const shapes = ["square","circle","triUp","triDown","diamond","triLeft","triRight","hexagon","star","pentagon"];

function poly(n,R,a0){let s="";for(let i=0;i<n;i++){const a=a0+i*2*Math.PI/n;s+=(i?"L":"M")+(R*Math.cos(a)).toFixed(2)+","+(R*Math.sin(a)).toFixed(2);}return s+"Z";}
function starPath(R){let s="";for(let i=0;i<10;i++){const r=i%2?R*0.45:R;const a=-Math.PI/2+i*Math.PI/5;s+=(i?"L":"M")+(r*Math.cos(a)).toFixed(2)+","+(r*Math.sin(a)).toFixed(2);}return s+"Z";}
function markerPath(shape,s){
  switch(shape){
    case "square": return `M${-s},${-s}h${2*s}v${2*s}h${-2*s}Z`;
    case "circle": {const r=s*1.1;return `M${r},0A${r},${r} 0 1,1 ${-r},0A${r},${r} 0 1,1 ${r},0Z`;}
    case "triUp": return poly(3,s*1.4,-Math.PI/2);
    case "triDown": return poly(3,s*1.4,Math.PI/2);
    case "triLeft": return poly(3,s*1.4,Math.PI);
    case "triRight": return poly(3,s*1.4,0);
    case "diamond": return poly(4,s*1.4,-Math.PI/2);
    case "hexagon": return poly(6,s*1.15,0);
    case "pentagon": return poly(5,s*1.25,-Math.PI/2);
    case "star": return starPath(s*1.6);
  }
}

const panels = [
  {title:[["[Ru(Phen)",0],["3",1],["]Cl",0],["2",1]], labels:phenLabels, series:phenSeries, yTicks:phenYTicks, yMinor:phenYMinor, dec:1,
   box:[42.7,1,386.7,256], yDomain:[-0.5,0.05], titlePos:[51.7,156.5], leg:{x0:55,x1:71,tx:74.3,y0:163.3,dy:7.78,fs:5.5}, ylab:[11.7,126.7], xPad:0, xlabY:289},
  {title:[["[Ru(MPhen)",0],["3",1],["]Cl",0],["2",1]], labels:mphenLabels, series:mphenSeries, yTicks:mphenYTicks, yMinor:mphenYMinor, dec:2,
   box:[467,1,811,256], yDomain:[-0.35,0.075], titlePos:[477.7,149], leg:{x0:482,x1:496,tx:498.7,y0:163.3,dy:7.78,fs:6.4}, ylab:[434.3,126.7], xPad:0, xlabY:289},
  {title:[["[Ru(Ph",0],["2",1],["Phen)",0],["3",1],["]Cl",0],["2",1]], labels:ph2Labels, series:ph2Series, yTicks:ph2YTicks, yMinor:ph2YMinor, dec:2,
   box:[42.7,325,386.7,579.3], yDomain:[-0.05,0.05], titlePos:[251.7,366.3], leg:{x0:278.3,x1:292.7,tx:294.3,y0:375.7,dy:7.78,fs:6.3}, ylab:[9.3,450], xPad:4, xlabY:613},
  {title:[["[Ru(TMePhen)",0],["3",1],["]Cl",0],["2",1]], labels:tmeLabels, series:tmeSeries, yTicks:tmeYTicks, yMinor:tmeYMinor, dec:2,
   box:[467,325,811,579.3], yDomain:[-0.055,0.03], titlePos:[693.3,351.3], leg:{x0:610,x1:622.7,tx:625,y0:479.3,dy:8.67,fs:6.6}, ylab:[434.3,440], xPad:4, xlabY:613},
  {title:[["[RuClPhen)",0],["3",1],["]Cl",0],["2",1]], labels:clLabels, series:clSeries, yTicks:clYTicks, yMinor:clYMinor, dec:2,
   box:[42.7,649.3,386.7,904.3], yDomain:[-0.15,0.04], titlePos:[290,673.3], leg:{x0:61.7,x1:75,tx:77.3,y0:819,dy:7.78,fs:6.4}, ylab:[11.7,788], xPad:3.3, xlabY:937.4},
  {title:[["[Ru(NPhen)",0],["3",1],["]Cl",0],["2",1]], labels:nLabels, series:nSeries, yTicks:nYTicks, yMinor:nYMinor, dec:3,
   box:[467,649.3,811,904.3], yDomain:[-0.001,0.0075], titlePos:[648.3,686], leg:{x0:666,x1:679.3,tx:682,y0:697.3,dy:7.78,fs:6.4}, ylab:[426.7,780], xPad:3.3, xlabY:937.4}
];

const svg = d3.select("#c");
const defs = svg.append("defs");
const FONT = '"Liberation Sans",Arial,Helvetica,sans-serif';

panels.forEach((p,pi)=>{
  const [x0,y0,x1,y1] = p.box;
  const x = d3.scaleLinear().domain([300,750]).range([x0,x1]);
  const y = d3.scaleLinear().domain(p.yDomain).range([y1,y0]);
  const g = svg.append("g");
  defs.append("clipPath").attr("id","clip"+pi).append("rect").attr("x",x0).attr("y",y0).attr("width",x1-x0).attr("height",y1-y0);

  // data
  const dg = g.append("g").attr("clip-path",`url(#clip${pi})`);
  const line = d3.line().x(d=>x(d[0])).y(d=>y(d[1]));
  p.series.forEach((s,k)=>{
    const pts = wavelengths.map((w,i)=>[w,s[i]]).filter(d=>d[1]!==undefined);
    dg.append("path").attr("d",line(pts)).attr("fill","none").attr("stroke",lineColors[k]).attr("stroke-width",0.8);
    const mp = markerPath(shapes[k],1.75);
    dg.append("g").selectAll("path").data(pts).join("path")
      .attr("d",mp).attr("transform",d=>`translate(${x(d[0]).toFixed(2)},${y(d[1]).toFixed(2)})`)
      .attr("fill",symbolColors[k]).attr("stroke",symbolColors[k]).attr("stroke-width",0.3);
  });

  // axes
  const styleAxis = sel=>{sel.select(".domain").remove();sel.selectAll("line").attr("stroke","#222");sel.selectAll("text").attr("font-size",9.7).attr("font-family",FONT).attr("fill","#222");};
  g.append("g").attr("transform",`translate(0,${y1})`).call(d3.axisBottom(x).tickValues(xTicks).tickSize(4).tickPadding(p.xPad).tickFormat(d=>String(d))).call(styleAxis);
  g.append("g").attr("transform",`translate(0,${y1})`).call(d3.axisBottom(x).tickValues(xMinorTicks).tickSize(2.2).tickFormat("")).call(styleAxis);
  g.append("g").attr("transform",`translate(0,${y0})`).call(d3.axisTop(x).tickValues(xTicks).tickSize(-4).tickFormat("")).call(styleAxis);
  g.append("g").attr("transform",`translate(0,${y0})`).call(d3.axisTop(x).tickValues(xMinorTicks).tickSize(-2.2).tickFormat("")).call(styleAxis);
  g.append("g").attr("transform",`translate(${x0},0)`).call(d3.axisLeft(y).tickValues(p.yTicks).tickSize(4).tickPadding(2).tickFormat(d=>d.toFixed(p.dec))).call(styleAxis);
  g.append("g").attr("transform",`translate(${x0},0)`).call(d3.axisLeft(y).tickValues(p.yMinor).tickSize(2.2).tickFormat("")).call(styleAxis);
  g.append("g").attr("transform",`translate(${x1},0)`).call(d3.axisRight(y).tickValues(p.yTicks).tickSize(-4).tickFormat("")).call(styleAxis);
  g.append("g").attr("transform",`translate(${x1},0)`).call(d3.axisRight(y).tickValues(p.yMinor).tickSize(-2.2).tickFormat("")).call(styleAxis);

  g.append("rect").attr("x",x0).attr("y",y0).attr("width",x1-x0).attr("height",y1-y0).attr("fill","none").attr("stroke","#222").attr("stroke-width",1);

  // axis titles
  g.append("text").attr("x",(x0+x1)/2).attr("y",p.xlabY).attr("text-anchor","middle").attr("font-size",11.5).text("Wavelength, nm");
  g.append("text").attr("transform",`translate(${p.ylab[0]},${p.ylab[1]}) rotate(-90)`).attr("text-anchor","middle").attr("dominant-baseline","central").attr("font-size",11.5).text("\u0394A");

  // title
  const t = g.append("text").attr("x",p.titlePos[0]).attr("y",p.titlePos[1]).attr("font-size",12);
  let sub=false;
  p.title.forEach(([txt,isSub])=>{
    const ts=t.append("tspan").text(txt);
    if(isSub){ts.attr("font-size",8.5).attr("dy",sub?0:3);sub=true;}
    else{ if(sub){ts.attr("dy",-3);sub=false;} }
  });

  // legend
  const L=p.leg;
  p.labels.forEach((lab,k)=>{
    const yy=L.y0+k*L.dy;
    g.append("line").attr("x1",L.x0).attr("x2",L.x1).attr("y1",yy).attr("y2",yy).attr("stroke",lineColors[k]).attr("stroke-width",0.9);
    g.append("path").attr("d",markerPath(shapes[k],1.4)).attr("transform",`translate(${(L.x0+L.x1)/2},${yy})`).attr("fill",symbolColors[k]).attr("stroke",symbolColors[k]).attr("stroke-width",0.3);
    g.append("text").attr("x",L.tx).attr("y",yy).attr("dominant-baseline","central").attr("font-size",L.fs).text(lab);
  });
});
</script>
</body></html>
